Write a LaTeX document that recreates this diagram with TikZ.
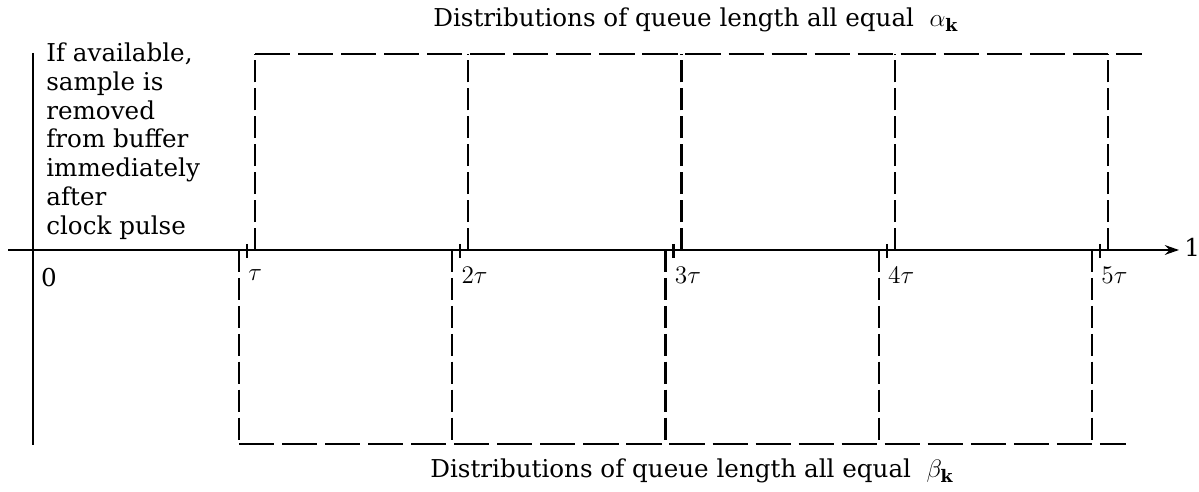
\documentclass[tikz,border=0pt]{standalone}
\usepackage{fontspec}
\setmainfont{DejaVu Serif}
\usetikzlibrary{arrows.meta}

\begin{document}
\begin{tikzpicture}[
    x=0.02cm, y=0.02cm,
    axis/.style={line width=1.6pt},
    vdash/.style={line width=1.35pt, dash pattern=on 12.5pt off 3.4pt},
    hdash/.style={line width=1.35pt, dash pattern=on 20pt off 4.5pt},
    tickmark/.style={line width=1.35pt},
    lbl/.style={font=\fontsize{14}{16.5}\selectfont, inner sep=0pt},
    >=Stealth
]
  \useasboundingbox (0,0) rectangle (1199,492);

  % axes
  \coordinate (xstart) at (8,242);
  \coordinate (xend) at (1179,242);
  \coordinate (ytop) at (33,439);
  \coordinate (ybot) at (33,47);
  \draw[axis, -{Stealth[length=8pt,width=5.5pt]}] (xstart) -- (xend);
  \draw[line width=1.4pt] (ytop) -- (ybot);
  \node[lbl, anchor=west] (one) at (1184,245) {1};
  \node[lbl] (zero) at (49,214) {0};

  \node[lbl, align=left, anchor=north west] (note) at (46,450)
    {If available,\\sample is\\removed\\from buffer\\immediately\\after\\clock pulse};

  % clock pulses
  \foreach \k in {1,...,5} {
    \pgfmathsetmacro{\xt}{247+(\k-1)*213.25}
    \coordinate (t\k) at (\xt,242);
    \coordinate (tu\k) at (\xt,248);
    \coordinate (td\k) at (\xt,234);
    \coordinate (a\k) at (\xt+8,242);
    \coordinate (at\k) at (\xt+8,438);
    \coordinate (b\k) at (\xt-8,242);
    \coordinate (bb\k) at (\xt-8,48);
    \draw[tickmark] (tu\k) -- (td\k);
    \draw[vdash] (a\k) -- (at\k);
    \draw[vdash] (b\k) -- (bb\k);
    \ifnum\k=1
      \node[lbl, anchor=west] (lab\k) at (\xt+1,217) {$\tau$};
    \else
      \node[lbl, anchor=west] (lab\k) at (\xt+1,217) {$\k\tau$};
    \fi
  }

  % distribution levels
  \coordinate (topend) at (1142,438);
  \coordinate (botend) at (1126,48);
  \draw[hdash] (at1) -- (topend);
  \draw[hdash] (bb1) -- (botend);

  \node[lbl, anchor=base west] (alphalbl) at (433,465)
    {Distributions of queue length all equal~~$\alpha_{\mathbf{k}}$};
  \node[lbl, anchor=base west] (betalbl) at (430,14)
    {Distributions of queue length all equal~~$\beta_{\mathbf{k}}$};
\end{tikzpicture}
\end{document}
